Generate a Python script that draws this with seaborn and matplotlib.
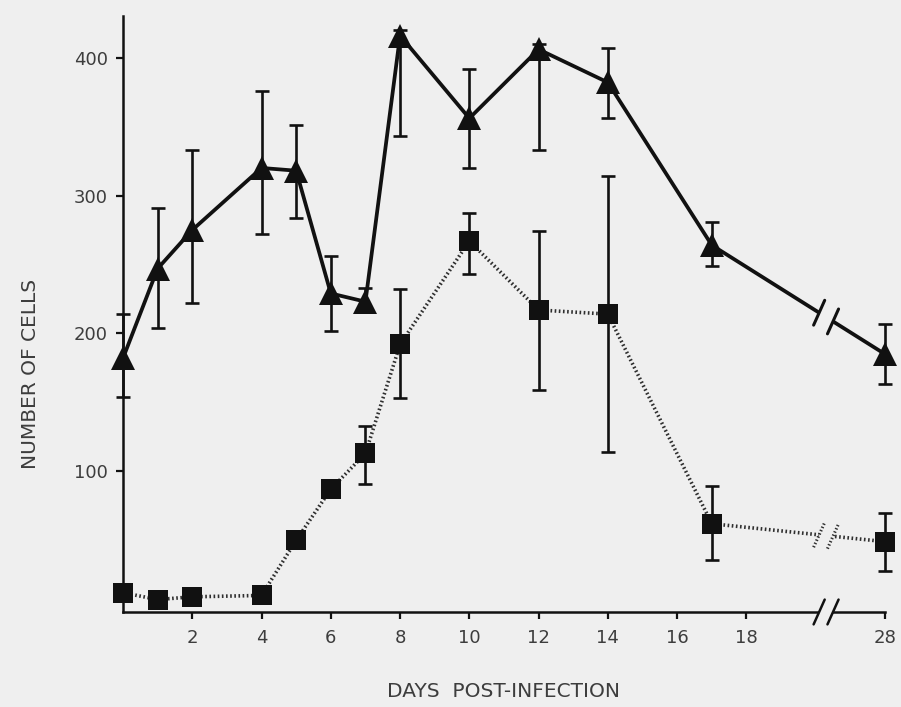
import numpy as np
import pandas as pd
import seaborn as sns
import matplotlib.pyplot as plt

# values (cells), days post-infection
days = [0, 1, 2, 4, 5, 6, 7, 8, 10, 12, 14, 17, 28]

tri_mean = [182, 247, 275, 320, 318, 229, 223, 416, 356, 406, 382, 264, 185]
tri_hi = [214, 291, 333, 376, 351, 256, 233, 420, 392, 410, 407, 281, 207]
tri_lo = [154, 204, 222, 272, 284, 202, 218, 343, 320, 333, 356, 249, 163]

sq_mean = [12, 7, 9, 10, 50, 87, 113, 192, 267, 217, 214, 62, 49]
sq_hi = [12, 7, 14, 10, 50, 87, 133, 232, 287, 274, 314, 89, 70]
sq_lo = [12, 7, 4, 10, 50, 87, 91, 153, 243, 159, 114, 36, 28]

x_tick_days = [2, 4, 6, 8, 10, 12, 14, 16, 18, 28]
y_ticks = [100, 200, 300, 400]

# axis is broken between 18 and 28: day 28 is drawn 4 days after 18
def axis_pos(d):
    d = np.asarray(d, dtype=float)
    return np.where(d > 18, d - 6, d)

brk = (20.1, 20.5)

bg = '#efefef'
ink = '#111111'
txt = '#3d3d3d'
dots = (0, (0.45, 0.7))

sns.set_style('ticks')
plt.rcParams['font.family'] = ['DejaVu Sans']

df = pd.DataFrame({'pos': np.concatenate([axis_pos(days)] * 2),
                   'cells': tri_mean + sq_mean,
                   'group': ['tri'] * len(days) + ['sq'] * len(days)})

fig = plt.figure(figsize=(9.01, 7.07), dpi=100, facecolor=bg)
ax = fig.add_axes([0.1365, 0.1344, 0.8457, 0.8426])
ax.set_facecolor(bg)

pos = axis_pos(days)

# error bars
for m, hi, lo in [(tri_mean, tri_hi, tri_lo), (sq_mean, sq_hi, sq_lo)]:
    m = np.array(m); hi = np.array(hi); lo = np.array(lo)
    ax.errorbar(pos, m, yerr=[m - lo, hi - m], fmt='none', ecolor=ink,
                elinewidth=1.9, capsize=5, capthick=1.9, zorder=2, clip_on=False)

sns.lineplot(data=df[df.group == 'tri'], x='pos', y='cells', ax=ax, sort=False,
             color=ink, lw=2.7, marker='^', markersize=17, markeredgecolor=ink,
             markeredgewidth=0, errorbar=None, zorder=3, clip_on=False)
sns.lineplot(data=df[df.group == 'sq'], x='pos', y='cells', ax=ax, sort=False,
             color='#2e2e2e', lw=2.6, linestyle=dots, marker='s',
             markersize=14, markeredgecolor=ink, markerfacecolor=ink,
             markeredgewidth=0, errorbar=None, zorder=3, clip_on=False)

# break marks on the two series and on the x axis
def break_marks(y_at, ls, lw, gap_lw, col=ink):
    ax.plot(brk, y_at, color=bg, lw=gap_lw, zorder=4, solid_capstyle='butt', clip_on=False)
    for xb, yb in zip(brk, y_at):
        ax.plot([xb - 0.16, xb + 0.16], [yb - 9, yb + 9], color=col, lw=lw,
                linestyle=ls, zorder=5, clip_on=False)

ymin = -2
xp = [axis_pos(17)[()], axis_pos(28)[()]]
break_marks(np.interp(brk, xp, [tri_mean[-2], tri_mean[-1]]), '-', 2.2, 5)
break_marks(np.interp(brk, xp, [sq_mean[-2], sq_mean[-1]]), dots, 2.2, 5, '#2e2e2e')
break_marks([ymin, ymin], '-', 1.8, 4)

ax.set_xlim(0, 22)
ax.set_ylim(ymin, 430)
ax.set_xticks(axis_pos(x_tick_days))
ax.set_xticklabels([str(d) for d in x_tick_days])
ax.set_yticks(y_ticks)
ax.set_yticklabels([str(v) for v in y_ticks])
sns.despine(ax=ax)
for s in ['left', 'bottom']:
    ax.spines[s].set_linewidth(1.8)
    ax.spines[s].set_color(ink)
ax.tick_params(length=5, width=1.6, color=ink, labelsize=13, labelcolor=txt)
ax.tick_params(axis='y', pad=6)
ax.tick_params(axis='x', pad=7)

ax.set_xlabel('DAYS  POST-INFECTION', fontsize=14.5, color=txt)
ax.set_ylabel('NUMBER OF CELLS', fontsize=14.5, color=txt)
ax.xaxis.set_label_coords(0.499, -0.134)
ax.yaxis.set_label_coords(-0.122, 0.40)
ax.xaxis.label.set_verticalalignment('center')
ax.yaxis.label.set_verticalalignment('center')

fig.savefig('out.png', dpi=100, facecolor=bg)
